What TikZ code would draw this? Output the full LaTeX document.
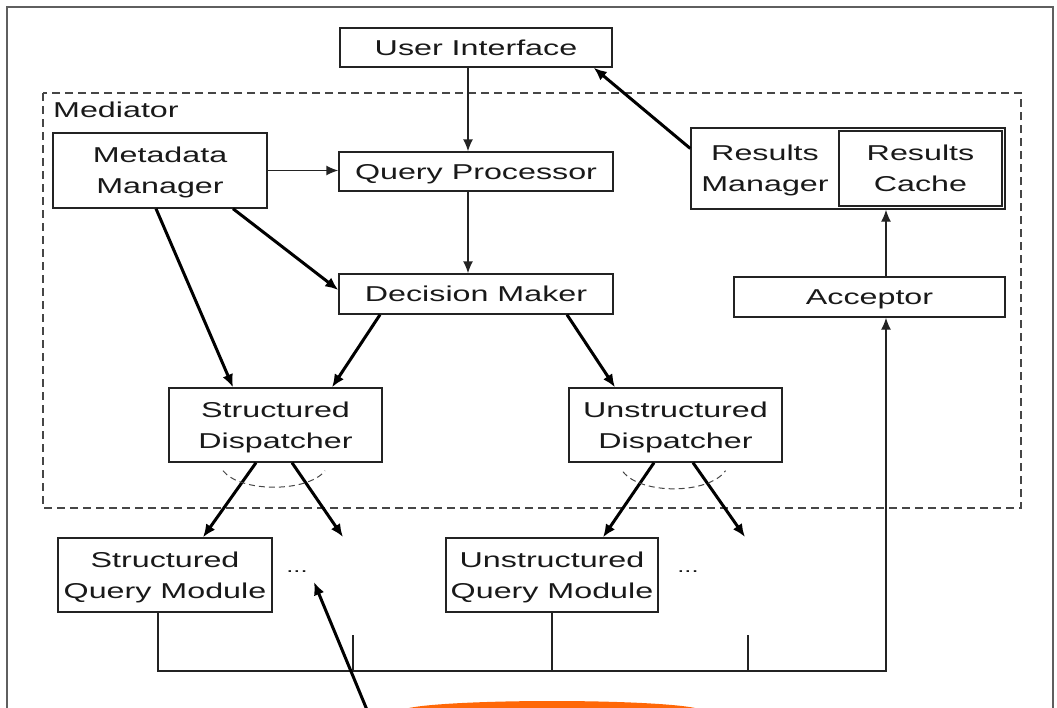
\documentclass[tikz,border=0pt]{standalone}
\usepackage{fontspec}
\usepackage{tikz}
\usetikzlibrary{arrows.meta}
\newfontfamily\boxfont{Liberation Sans}[FakeStretch=1.5]
\definecolor{linegray}{RGB}{35,35,35}
\definecolor{framegray}{RGB}{95,95,95}
\definecolor{dashgray}{RGB}{70,70,70}
\definecolor{blob}{RGB}{255,104,8}
\tikzstyle{every node}=[font={\boxfont\fontsize{21.5}{31}\selectfont}, text=black!90]
\tikzstyle{box}=[draw=linegray, line width=1.4pt, inner sep=0pt, align=center, text depth=0pt]
\tikzstyle{plain}=[inner sep=0pt, align=center, text depth=0pt]
\tikzstyle{wire}=[draw=linegray, line width=1.4pt]
\tikzstyle{thinlink}=[draw=linegray, line width=1.4pt, -{Latex[length=12pt,width=10pt]}]
\tikzstyle{thicklink}=[draw=black, line width=3pt, -{Latex[length=13pt,width=11pt]}]
\tikzstyle{arcdash}=[draw=dashgray, line width=1pt, dash pattern=on 6pt off 4pt]

\begin{document}
\begin{tikzpicture}[x=1pt,y=-1pt]
\useasboundingbox (0,0) rectangle (1057,707);
\fill[blob] (552,711) ellipse [x radius=150pt, y radius=10pt];
\draw[framegray, line width=1.5pt] (7,720) -- (7,7) -- (1053,7) -- (1053,720);
\draw[dashgray, line width=1.4pt, dash pattern=on 8pt off 5pt] (43,93) rectangle (1021,508);
\node[plain, anchor=base west] (med) at (53,117) {Mediator};

\node[box, minimum width=272pt, minimum height=39pt] (ui) at (476,47.5) {User Interface};
\node[box, minimum width=214pt, minimum height=75pt] (mm) at (160,170.5) {Metadata\\Manager};
\node[box, minimum width=274pt, minimum height=39pt] (qp) at (476,171.5) {Query Processor};
\node[box, minimum width=274pt, minimum height=40pt] (dm) at (476,294) {Decision Maker};
\node[box, minimum width=314pt, minimum height=81pt] (rm) at (848,168.5) {};
\node[plain] (rmtext) at (765,168.5) {Results\\Manager};
\node[box, minimum width=163pt, minimum height=75pt] (rc) at (920.5,168.5) {Results\\Cache};
\node[box, minimum width=271pt, minimum height=40pt] (acc) at (869.5,297) {Acceptor};
\node[box, minimum width=213pt, minimum height=74pt] (sd) at (275.5,425) {Structured\\Dispatcher};
\node[box, minimum width=213pt, minimum height=74pt] (ud) at (675.5,425) {Unstructured\\Dispatcher};
\node[box, minimum width=214pt, minimum height=74pt] (sqm) at (165,575) {Structured\\Query Module};
\node[box, minimum width=212pt, minimum height=74pt] (uqm) at (552,575) {Unstructured\\Query Module};
\node[plain, font={\boxfont\fontsize{17}{20}\selectfont}] (sqmdots) at (297,572) {...};
\node[plain, font={\boxfont\fontsize{17}{20}\selectfont}] (uqmdots) at (688,572) {...};

\coordinate (sdmore) at (343,537);
\coordinate (udmore) at (745,537);
\coordinate (busend) at (886,671);
\coordinate (tickone) at (353,635);
\coordinate (ticktwo) at (748,635);
\coordinate (pointer) at (372,722);

\draw[thinlink] ([xshift=-8pt]ui.south) -- ([xshift=-8pt]qp.north);
\draw[thinlink] ([xshift=-8pt]qp.south) -- ([xshift=-8pt]dm.north);
\draw[thinlink] (mm.east) -- (mm.east -| qp.west);
\draw[thicklink] ([xshift=73pt]mm.south) -- ([yshift=4pt]dm.west);
\draw[thicklink] ([xshift=-4pt]mm.south) -- ([xshift=-42.5pt]sd.north);
\draw[thicklink] ([xshift=-96pt]dm.south) -- ([xshift=56.5pt]sd.north);
\draw[thicklink] ([xshift=91pt]dm.south) -- ([xshift=-60.5pt]ud.north);
\draw[thicklink] ([xshift=-19.5pt]sd.south) -- ([xshift=38pt]sqm.north);
\draw[thicklink] ([xshift=16.5pt]sd.south) -- (sdmore);
\draw[thicklink] ([xshift=-21.5pt]ud.south) -- ([xshift=51pt]uqm.north);
\draw[thicklink] ([xshift=17.5pt]ud.south) -- (udmore);
\draw[thicklink] ([yshift=20pt]rm.west) -- ([xshift=-19pt]ui.south east);
\draw[thinlink] ([xshift=16.5pt]acc.north) -- ([xshift=38pt]rm.south);

\draw[arcdash] ([shift={(-52.5pt,-8pt)}]sd.south) .. controls ([shift={(-35.5pt,-30pt)}]sd.south) and ([shift={(32.5pt,-30pt)}]sd.south) .. ([shift={(49.5pt,-8pt)}]sd.south);
\draw[arcdash] ([shift={(-52.5pt,-9pt)}]ud.south) .. controls ([shift={(-35pt,-32pt)}]ud.south) and ([shift={(33pt,-32pt)}]ud.south) .. ([shift={(50pt,-8pt)}]ud.south);

\draw[thinlink] ([xshift=-7pt]sqm.south) |- (busend) -- ([xshift=16.5pt]acc.south);
\draw[wire] (uqm.south) -- (uqm.south |- busend);
\draw[wire] (tickone) -- (tickone |- busend);
\draw[wire] (ticktwo) -- (ticktwo |- busend);
\draw[thicklink] (pointer) -- ([xshift=17pt,yshift=-10pt]sqmdots.center);
\end{tikzpicture}
\end{document}
